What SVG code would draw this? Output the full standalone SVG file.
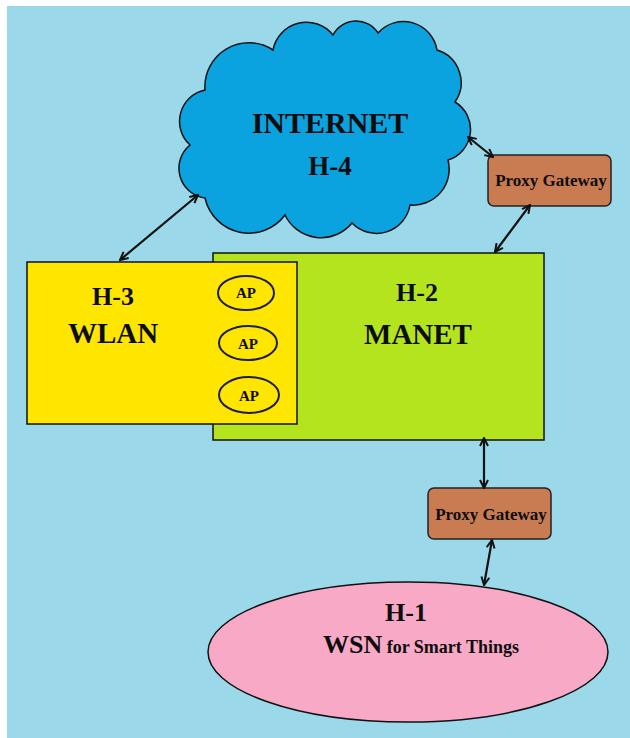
<svg xmlns="http://www.w3.org/2000/svg" width="630" height="738" viewBox="0 0 630 738">
  <style>
    .lbl { font-family: "Liberation Serif", "Times New Roman", serif; font-weight: bold; fill: #0d0d0d; text-anchor: middle; }
    .edge { stroke: #111; stroke-width: 2.2; fill: none; marker-start: url(#head); marker-end: url(#head); }
    .shape { stroke: #111; stroke-width: 1.5; }
    .gw { fill: #c97b52; stroke: #222; stroke-width: 1.5; }
    .ap { fill: #ffe600; stroke: #1c1c4e; stroke-width: 2; }
  </style>
  <defs>
    <marker id="head" viewBox="0 0 10 10" refX="9" refY="5" markerWidth="10" markerHeight="10" markerUnits="userSpaceOnUse" orient="auto-start-reverse">
      <path d="M1,1 L9,5 L1,9" fill="none" stroke="#111" stroke-width="2"/>
    </marker>
  </defs>

  <rect x="0" y="0" width="630" height="738" fill="#ffffff"/>
  <rect x="7" y="6" width="623" height="732" fill="#9bd9ea"/>

  <!-- H-2 MANET -->
  <g id="manet">
    <rect class="shape" x="213" y="253" width="331" height="187" fill="#b4e41e"/>
    <text class="lbl" x="417" y="301" font-size="26">H-2</text>
    <text class="lbl" x="418" y="344" font-size="29">MANET</text>
  </g>

  <!-- H-3 WLAN with access points -->
  <g id="wlan">
    <rect class="shape" x="27" y="262" width="270" height="162" fill="#ffe600"/>
    <text class="lbl" x="113" y="305" font-size="26">H-3</text>
    <text class="lbl" x="113" y="343" font-size="29">WLAN</text>
  </g>
  <g id="ap1">
    <ellipse class="ap" cx="246" cy="293" rx="28" ry="17"/>
    <text class="lbl" x="246" y="298" font-size="15">AP</text>
  </g>
  <g id="ap2">
    <ellipse class="ap" cx="248" cy="343" rx="29" ry="17"/>
    <text class="lbl" x="248" y="349" font-size="15">AP</text>
  </g>
  <g id="ap3">
    <ellipse class="ap" cx="249" cy="395" rx="30" ry="18"/>
    <text class="lbl" x="249" y="401" font-size="15">AP</text>
  </g>

  <!-- H-4 INTERNET cloud -->
  <g id="internet">
    <path class="shape" fill="#0aa2df" d="M205,90 A44,44 0 0 1 273,50 A34,34 0 0 1 333,35 A26,26 0 0 1 378,33 A34,34 0 0 1 437,50 A34,34 0 0 1 455,102 A32,32 0 0 1 448,160 A36,36 0 0 1 410,205 A34,34 0 0 1 352,223 A40,40 0 0 1 285,215 A45,45 0 0 1 205,198 A30,30 0 0 1 190,145 A32,32 0 0 1 205,90 Z"/>
    <text class="lbl" x="330" y="133" font-size="30">INTERNET</text>
    <text class="lbl" x="330" y="175" font-size="27">H-4</text>
  </g>

  <!-- Proxy gateways -->
  <g id="gateway-top">
    <rect class="gw" x="488" y="155" width="123" height="51" rx="6"/>
    <text class="lbl" x="551" y="186" font-size="17" fill="#2a1a10">Proxy Gateway</text>
  </g>
  <g id="gateway-bottom">
    <rect class="gw" x="428" y="488" width="123" height="51" rx="6"/>
    <text class="lbl" x="491" y="520" font-size="17" fill="#2a1a10">Proxy Gateway</text>
  </g>

  <!-- H-1 WSN -->
  <g id="wsn">
    <ellipse class="shape" cx="408" cy="652" rx="200" ry="70" fill="#f8a9c6"/>
    <text class="lbl" x="406" y="621" font-size="26">H-1</text>
    <text class="lbl" x="421" y="653"><tspan font-size="26">WSN</tspan><tspan font-size="18"> for Smart Things</tspan></text>
  </g>

  <!-- Connectors -->
  <g id="connectors">
    <line class="edge" x1="120" y1="260" x2="198" y2="195"/>
    <line class="edge" x1="468" y1="137" x2="493" y2="157"/>
    <line class="edge" x1="530" y1="205" x2="495" y2="252"/>
    <line class="edge" x1="484" y1="438" x2="484" y2="488"/>
    <line class="edge" x1="492" y1="540" x2="484" y2="585"/>
  </g>
</svg>
